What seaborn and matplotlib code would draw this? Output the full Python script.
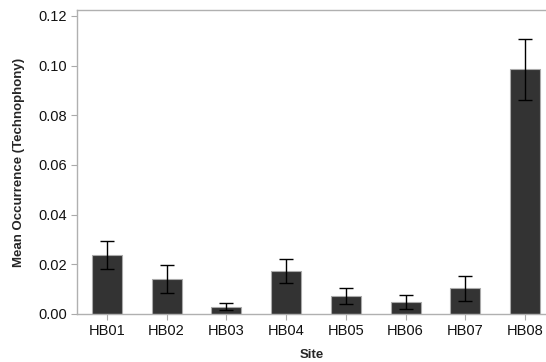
import numpy as np
import pandas as pd
import matplotlib
matplotlib.use("Agg")
import matplotlib.pyplot as plt
import seaborn as sns

# values
sites = ["HB01", "HB02", "HB03", "HB04", "HB05", "HB06", "HB07", "HB08"]
means = [0.0237, 0.0140, 0.0029, 0.0174, 0.0073, 0.0050, 0.0103, 0.0985]
errors = [0.0056, 0.0057, 0.0014, 0.0049, 0.0031, 0.0028, 0.0050, 0.0124]
yticks = [0.00, 0.02, 0.04, 0.06, 0.08, 0.10, 0.12]

df = pd.DataFrame({"Site": sites, "Mean": means, "Err": errors})

sns.set_theme(style="white")
plt.rcParams["font.family"] = ["Liberation Sans", "DejaVu Sans"]

fig = plt.figure(figsize=(5.46, 3.62), dpi=100)
ax = fig.add_axes([0.141, 0.1326, 0.859, 0.8398])

sns.barplot(data=df, x="Site", y="Mean", order=sites, color="#333333",
            width=0.5, errorbar=None, edgecolor="#aaaaaa", linewidth=0.8,
            saturation=1, ax=ax)
ax.errorbar(np.arange(len(sites)), means, yerr=errors, fmt="none",
            ecolor="black", elinewidth=1.0, capsize=4.7, capthick=1.0)

ax.set_xlim(-0.5, 7.35)
ax.set_ylim(0, 0.1224)
ax.set_yticks(yticks)
ax.set_yticklabels([f"{t:.2f}" for t in yticks])

for side in ["left", "bottom", "top"]:
    ax.spines[side].set_color("#b0b0b0")
    ax.spines[side].set_linewidth(1.0)
ax.spines["right"].set_visible(False)

ax.tick_params(axis="both", which="major", length=4, width=0.8,
               color="#aaaaaa", labelsize=10.5, labelcolor="#111111",
               direction="out", pad=3)
ax.tick_params(axis="x", bottom=True)
ax.tick_params(axis="y", left=True)

ax.set_xlabel("Site", fontsize=9.5, fontweight="bold", labelpad=8)
ax.set_ylabel("Mean Occurrence (Technophony)", fontsize=9.5,
              fontweight="bold", labelpad=10)

fig.savefig("out.png", dpi=100)
